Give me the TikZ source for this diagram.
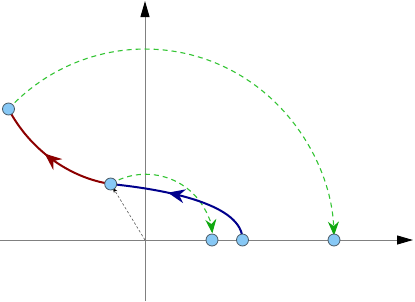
\documentclass[tikz,border=0pt]{standalone}
\usetikzlibrary{arrows.meta,decorations.markings}
\definecolor{dotfill}{HTML}{87C8F5}
\definecolor{dotline}{HTML}{4A5A66}
\definecolor{gdash}{HTML}{33C433}
\definecolor{garrow}{HTML}{10A810}
\definecolor{bluec}{HTML}{00008C}
\definecolor{redc}{HTML}{8C0000}
\tikzset{
  axis/.style={draw=gray, line width=1pt, -{Triangle[length=16pt,width=9pt,fill=black,color=black]}},
  dot/.style={circle, draw=dotline, fill=dotfill, line width=0.8pt, minimum size=12pt, inner sep=0pt},
  gdashed/.style={draw=gdash, line width=1.1pt, dash pattern=on 5pt off 4pt, -{Stealth[length=14pt,width=11pt,color=garrow,fill=garrow]}},
  bluecurve/.style={draw=bluec, line width=2pt, postaction={decorate},
    decoration={markings, mark=at position 0.62 with {\arrow{Stealth[length=17pt,width=14pt,color=bluec]}}}},
  redcurve/.style={draw=redc, line width=2pt, postaction={decorate},
    decoration={markings, mark=at position 0.56 with {\arrow{Stealth[length=17pt,width=14pt,color=redc]}}}},
  radial/.style={draw=gray!70!black, line width=0.6pt, dash pattern=on 2.5pt off 2pt, -{Stealth[length=5pt,width=4pt,color=black]}}
}
\begin{document}
\begin{tikzpicture}[x=1pt,y=-1pt]
\useasboundingbox (0,0) rectangle (415,301);
% axes
\coordinate (xl) at (0,240);
\coordinate (xr) at (413,240);
\coordinate (yb) at (145,301);
\coordinate (yt) at (145,1);
\coordinate (O) at (145,240);
\draw[axis] (xl) -- (xr);
\draw[axis] (yb) -- (yt);
% point positions
\coordinate (P1) at (242.5,240);
\coordinate (P2) at (212,240);
\coordinate (P3) at (334,240);
\coordinate (Q1) at (110.7,184);
\coordinate (Q2) at (8.5,109);
% radial
\draw[radial, shorten >=4.5pt] (O) -- (Q1);
% green arcs
\draw[gdashed] (Q1) arc[start angle=121.5, end angle=6, x radius=67, y radius=-66];
\draw[gdashed] (Q2) arc[start angle=136.3, end angle=2.2, x radius=189, y radius=-194];
% curves
\draw[bluecurve] (P1) .. controls (243,205) and (170,190) .. (Q1);
\draw[redcurve] (Q1) .. controls (70,178) and (30,150) .. (Q2);
% dots
\node[dot] (p1) at (P1) {};
\node[dot] (p2) at (P2) {};
\node[dot] (p3) at (P3) {};
\node[dot] (q1) at (Q1) {};
\node[dot] (q2) at (Q2) {};
\end{tikzpicture}
\end{document}
